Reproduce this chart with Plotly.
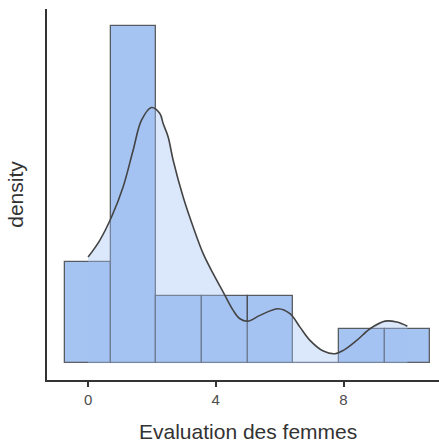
import plotly.graph_objects as go

# Histogram data (bins of width 10/7 centred on multiples of 10/7)
bin_centers = [0.0, 1.4286, 2.8571, 4.2857, 5.7143, 7.1429, 8.5714, 10.0]
bin_width = 10 / 7
counts = [3, 10, 2, 2, 2, 0, 1, 1]

# Density curve
dens_x = [0.0, 0.367, 0.734, 1.097, 1.411, 1.674, 1.987, 2.248, 2.351, 2.508, 2.665,
          2.978, 3.292, 3.605, 3.918, 4.232, 4.545, 4.756, 5.016, 5.382, 5.956, 6.323,
          6.636, 6.950, 7.367, 7.734, 7.994, 8.414, 8.831, 9.301, 9.668, 10.0]
dens_y = [0.1048, 0.1214, 0.1444, 0.1741, 0.2104, 0.2401, 0.2526, 0.2467, 0.2368, 0.2235, 0.2005,
          0.1642, 0.1345, 0.1082, 0.0884, 0.0702, 0.0521, 0.0439, 0.0415, 0.0472, 0.0538, 0.0489,
          0.0356, 0.0225, 0.0119, 0.0093, 0.0126, 0.0225, 0.0340, 0.0415, 0.0406, 0.0365]

x_ticks = [0, 4, 8]
x_title = "Evaluation des femmes"
y_title = "density"

total = sum(counts)
density = [c / (total * bin_width) for c in counts]

bar_rgb = (166, 196, 242)

fig = go.Figure()
fig.add_trace(go.Bar(
    x=bin_centers, y=density, width=bin_width,
    marker=dict(color="rgb(%d,%d,%d)" % bar_rgb,
                line=dict(color="rgba(60,60,60,0.8)", width=1.3)),
    hoverinfo="skip", showlegend=False,
))
fig.add_trace(go.Scatter(
    x=dens_x, y=dens_y, mode="lines", fill="tozeroy",
    fillcolor="rgba(%d,%d,%d,0.4)" % bar_rgb,
    line=dict(color="#444444", width=1.6, shape="spline"),
    showlegend=False,
))

fig.update_layout(
    width=439, height=443,
    margin=dict(l=47, r=0, t=9, b=63),
    paper_bgcolor="white", plot_bgcolor="white",
    bargap=0,
    font=dict(family="Liberation Sans, Arial, sans-serif", color="#4d4d4d"),
    xaxis=dict(
        range=[-1.286, 10.99], tickvals=x_ticks, ticktext=[str(v) for v in x_ticks],
        showgrid=False, zeroline=False, showline=True, linecolor="#333333", linewidth=1.5,
        ticks="outside", ticklen=5, tickcolor="#333333", tickwidth=1.5,
        tickfont=dict(size=15, color="#4d4d4d"),
    ),
    yaxis=dict(
        range=[-0.01667, 0.35], showticklabels=False, ticks="",
        showgrid=False, zeroline=False, showline=True, linecolor="#333333", linewidth=1.5,
        title=dict(text=y_title, font=dict(size=21, color="#333333"), standoff=16),
    ),
    annotations=[dict(
        text=x_title, xref="paper", yref="paper", x=0.512, y=-0.138,
        xanchor="center", yanchor="middle", showarrow=False,
        font=dict(size=21, color="#333333"),
    )],
)

fig.write_html("out.html")
